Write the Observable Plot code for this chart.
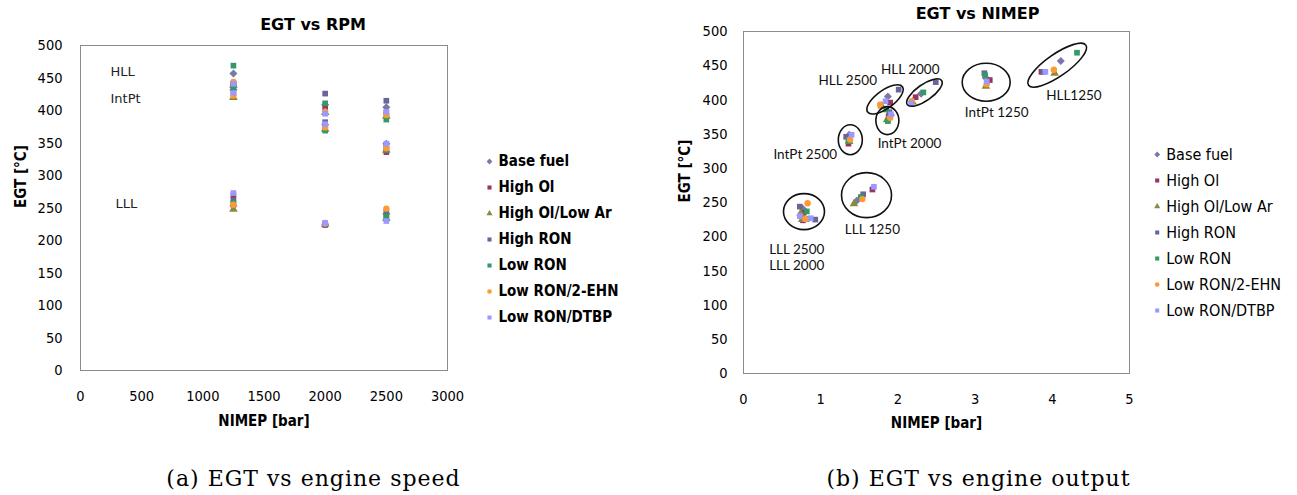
<!DOCTYPE html>
<html>
<head>
<meta charset="utf-8">
<script src="https://cdn.jsdelivr.net/npm/d3@7"></script>
<script src="https://cdn.jsdelivr.net/npm/@observablehq/plot@0.6"></script>
<style>
  html, body { margin: 0; padding: 0; background: #fff; }
  #page { position: relative; width: 1297px; height: 495px; overflow: hidden; background: #fff; }
  #page > * { position: absolute; }
  .caption { font-family: "DejaVu Serif", serif; font-size: 22px; letter-spacing: 1px; color: #000;
             white-space: nowrap; line-height: 1; transform: translateX(-50%); }
</style>
</head>
<body>
<div id="page"></div>
<script>
// Fuels tested and their series colours
const fuels = ["Base fuel", "High Ol", "High Ol/Low Ar", "High RON", "Low RON", "Low RON/2-EHN", "Low RON/DTBP"];
const fuelColors = ["#7a78a8", "#993366", "#8a8a3c", "#666699", "#339966", "#ff9933", "#9999ff"];

// Operating points: load level + engine speed
const operatingPoints = ["HLL 1250", "HLL 2000", "HLL 2500", "IntPt 1250", "IntPt 2000", "IntPt 2500", "LLL 1250", "LLL 2000", "LLL 2500"];
const engineSpeed = [1250, 2000, 2500, 1250, 2000, 2500, 1250, 2000, 2500];

// Exhaust gas temperature [°C], one row per fuel, one column per operating point
const egtValues = [
  [457, 409, 405, 432, 378, 349, 253, 225, 241],
  [441, 404, 396, 429, 376, 336, 269, 224, 235],
  [439, 397, 391, 420, 371, 339, 248, 225, 234],
  [441, 426, 415, 439, 382, 346, 262, 225, 244],
  [469, 411, 386, 436, 369, 340, 258, 226, 237],
  [444, 398, 393, 423, 374, 342, 255, 226, 249],
  [441, 395, 398, 427, 379, 349, 273, 227, 230]
];

// Net indicated mean effective pressure [bar], same layout
const nimepValues = [
  [4.11, 2.30, 1.87, 3.14, 1.91, 1.37, 1.47, 0.78, 0.77],
  [3.86, 2.23, 1.90, 3.19, 1.88, 1.36, 1.67, 0.77, 0.78],
  [4.03, 2.19, 1.79, 3.14, 1.86, 1.37, 1.43, 0.76, 0.74],
  [3.88, 2.49, 2.01, 3.12, 1.89, 1.33, 1.55, 0.93, 0.73],
  [4.32, 2.33, 1.85, 3.13, 1.87, 1.36, 1.52, 0.82, 0.82],
  [4.02, 2.18, 1.77, 3.15, 1.90, 1.38, 1.54, 0.80, 0.83],
  [3.91, 2.17, 1.84, 3.15, 1.91, 1.40, 1.69, 0.87, 0.73]
];

// Load-level notes on the speed chart
const loadNotes = [
  {text: "HLL", x: 245, y: 460},
  {text: "IntPt", x: 245, y: 418},
  {text: "LLL", x: 286, y: 257}
];

// Operating-point notes and rings on the output chart
const pointNotes = [
  {text: "HLL 2500", x: 1.35, y: 428},
  {text: "HLL 2000", x: 2.16, y: 444},
  {text: "HLL1250", x: 4.28, y: 406},
  {text: "IntPt 1250", x: 3.28, y: 381},
  {text: "IntPt 2000", x: 2.15, y: 336},
  {text: "IntPt 2500", x: 0.80, y: 320},
  {text: "LLL 1250", x: 1.67, y: 210},
  {text: "LLL 2500", x: 0.69, y: 181},
  {text: "LLL 2000", x: 0.69, y: 158}
];
const pointRings = [
  {x: 4.07, y: 450, rx: 35, ry: 11, angle: -35},
  {x: 3.15, y: 425, rx: 24, ry: 19, angle: 0},
  {x: 2.35, y: 410, rx: 21, ry: 8, angle: -35},
  {x: 1.84, y: 400, rx: 21.5, ry: 9, angle: -36},
  {x: 1.87, y: 369, rx: 11.5, ry: 14, angle: 0},
  {x: 1.39, y: 341, rx: 12, ry: 15, angle: 0},
  {x: 1.60, y: 260, rx: 25, ry: 22.5, angle: 0},
  {x: 0.79, y: 236, rx: 20.5, ry: 18, angle: 0}
];

// Long table built from the arrays above
const rows = [];
fuels.forEach((fuel, i) => {
  operatingPoints.forEach((op, j) => {
    rows.push({fuel, point: op, speed: engineSpeed[j], egt: egtValues[i][j], nimep: nimepValues[i][j]});
  });
});

// Square turned 45 degrees, like a spreadsheet diamond marker
const diamond = {
  draw(context, size) {
    const r = Math.sqrt(size / 2);
    context.moveTo(0, -r); context.lineTo(r, 0); context.lineTo(0, r); context.lineTo(-r, 0); context.closePath();
  }
};
const fuelSymbols = [diamond, d3.symbolSquare, d3.symbolTriangle, d3.symbolSquare, d3.symbolSquare, d3.symbolCircle, d3.symbolSquare];

const baseFont = "'DejaVu Sans Condensed', 'DejaVu Sans', sans-serif";
const plotStyle = {fontFamily: baseFont, fontSize: "14.5px", color: "#000", background: "transparent", overflow: "visible"};
const colorScale = {domain: fuels, range: fuelColors};
const symbolScale = {domain: fuels, range: fuelSymbols};

// Ellipses drawn around groups of points (screen-space radii, rotation in degrees)
function rings(spec) {
  return function (index, scales) {
    const s = scales && typeof scales.x === "function" ? scales : index;
    const g = d3.create("svg:g").attr("fill", "none").attr("stroke", "#111").attr("stroke-width", 1.6);
    for (const r of spec) {
      const cx = s.x(r.x), cy = s.y(r.y);
      g.append("ellipse").attr("cx", cx).attr("cy", cy).attr("rx", r.rx).attr("ry", r.ry)
        .attr("transform", `rotate(${r.angle} ${cx} ${cy})`);
    }
    return g.node();
  };
}

const page = document.getElementById("page");

// (a) EGT against engine speed
const speedChart = Plot.plot({
  width: 470, height: 445,
  marginLeft: 80, marginRight: 23, marginTop: 45, marginBottom: 75,
  x: {domain: [0, 3000], ticks: 6, tickSize: 0, tickPadding: 20, tickFormat: "d", label: null},
  y: {domain: [0, 500], ticks: 10, tickSize: 0, tickPadding: 18, label: null},
  color: colorScale,
  symbol: symbolScale,
  style: plotStyle,
  marks: [
    Plot.frame({stroke: "#8c8c8c"}),
    Plot.dot(rows, {x: "speed", y: "egt", fill: "fuel", symbol: "fuel", r: 3.2}),
    Plot.text(loadNotes, {x: "x", y: "y", text: "text", textAnchor: "start", fontFamily: "'DejaVu Sans', sans-serif", fontSize: 13, fill: "#222"}),
    Plot.text(["EGT vs RPM"], {frameAnchor: "top", dx: 49, dy: -27, fontWeight: "bold", fontSize: 16, fontFamily: "'DejaVu Sans', sans-serif"}),
    Plot.text(["NIMEP [bar]"], {frameAnchor: "bottom", dy: 55, fontWeight: "bold", fontSize: 15}),
    Plot.text(["EGT [°C]"], {frameAnchor: "left", dx: -59, rotate: -90, fontWeight: "bold", fontSize: 15})
  ]
});
speedChart.style.left = "0px";
speedChart.style.top = "0px";
page.appendChild(speedChart);

// (b) EGT against engine output
const outputChart = Plot.plot({
  width: 480, height: 445,
  marginLeft: 83, marginRight: 11, marginTop: 31, marginBottom: 72,
  x: {domain: [0, 5], ticks: 5, tickSize: 0, tickPadding: 20, label: null},
  y: {domain: [0, 500], ticks: 10, tickSize: 0, tickPadding: 16, label: null},
  color: colorScale,
  symbol: symbolScale,
  style: plotStyle,
  marks: [
    Plot.frame({stroke: "#8c8c8c"}),
    Plot.dot(rows, {x: "nimep", y: "egt", fill: "fuel", symbol: "fuel", r: 3.2}),
    rings(pointRings),
    Plot.text(pointNotes, {x: "x", y: "y", text: "text", fontFamily: "Lato, sans-serif", fontSize: 13.5, fill: "#111"}),
    Plot.text(["EGT vs NIMEP"], {frameAnchor: "top", dx: 41, dy: -24, fontWeight: "bold", fontSize: 16, fontFamily: "'DejaVu Sans', sans-serif"}),
    Plot.text(["NIMEP [bar]"], {frameAnchor: "bottom", dy: 54, fontWeight: "bold", fontSize: 15}),
    Plot.text(["EGT [°C]"], {frameAnchor: "left", dx: -58, rotate: -90, fontWeight: "bold", fontSize: 15})
  ]
});
outputChart.style.left = "660px";
outputChart.style.top = "0px";
page.appendChild(outputChart);

// Fuel legends beside each chart
function fuelLegend({markerX, step, weight, size}) {
  return Plot.plot({
    width: 170, height: 200, margin: 0,
    x: {type: "linear", domain: [0, 1], range: [markerX, markerX + 100], axis: null},
    y: {type: "point", domain: fuels, range: [20, 20 + 6 * step], padding: 0, axis: null},
    color: colorScale,
    symbol: symbolScale,
    style: plotStyle,
    marks: [
      Plot.dot(fuels, {x: () => 0, y: d => d, fill: d => d, symbol: d => d, r: 2.3}),
      Plot.text(fuels, {x: () => 0, y: d => d, text: d => d, dx: 9, textAnchor: "start", fontWeight: weight, fontSize: size, fill: "#000"})
    ]
  });
}
const legendA = fuelLegend({markerX: 9, step: 26.5, weight: "bold", size: 15});
legendA.style.left = "480px";
legendA.style.top = "139px";
page.appendChild(legendA);

const legendB = fuelLegend({markerX: 11.7, step: 26, weight: "normal", size: 16});
legendB.style.left = "1145px";
legendB.style.top = "134px";
page.appendChild(legendB);

// Sub-figure captions
for (const [text, cx] of [["(a) EGT vs engine speed", 313.5], ["(b) EGT vs engine output", 978.5]]) {
  const div = document.createElement("div");
  div.className = "caption";
  div.textContent = text;
  div.style.left = cx + "px";
  div.style.top = "468px";
  page.appendChild(div);
}
</script>
</body>
</html>
